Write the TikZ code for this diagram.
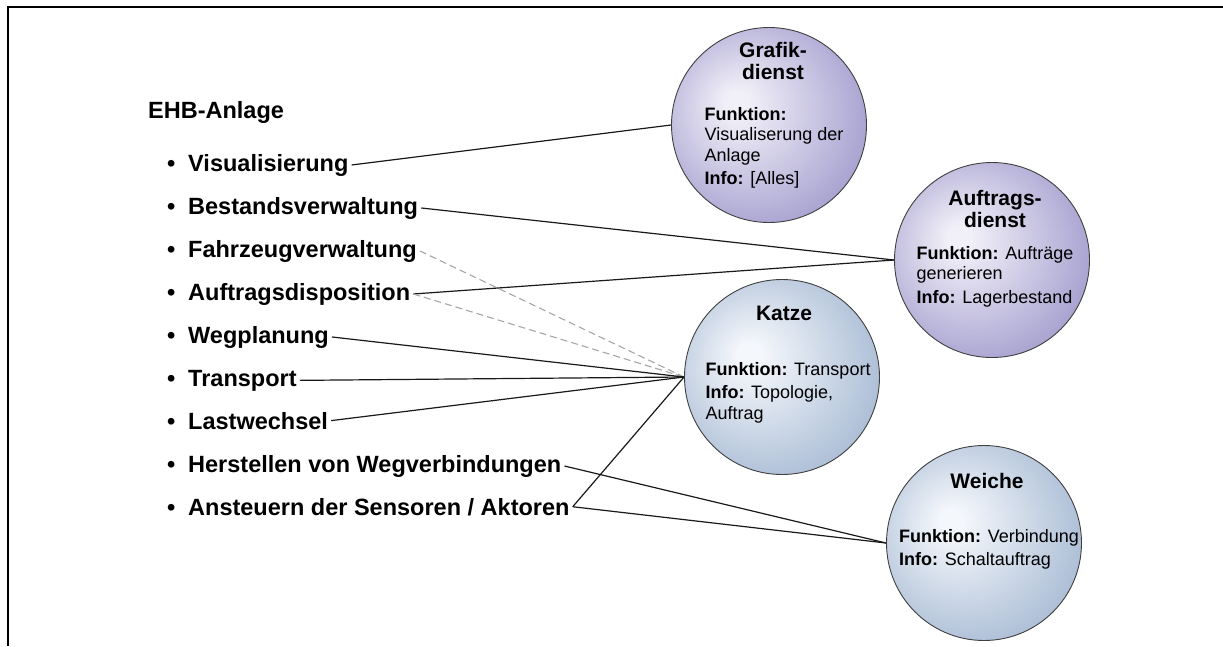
\documentclass[tikz,border=0pt]{standalone}
\usepackage{fontspec}
\setmainfont{Liberation Sans}
\usetikzlibrary{positioning}
\definecolor{lila}{HTML}{A7A1D0}
\definecolor{lilahell}{HTML}{F1F0F8}
\definecolor{blau}{HTML}{A6B9D3}
\definecolor{blauhell}{HTML}{F4F7FB}
\pgfdeclareradialshading{lilakugel}{\pgfqpoint{-9bp}{6bp}}{color(0bp)=(lilahell); color(3bp)=(lilahell); color(30bp)=(lila); color(50bp)=(lila)}
\pgfdeclareradialshading{blaukugel}{\pgfqpoint{-9bp}{6bp}}{color(0bp)=(blauhell); color(3bp)=(blauhell); color(32bp)=(blau); color(50bp)=(blau)}

\begin{document}
\begin{tikzpicture}[x=1pt, y=-1pt,
                kreis/.style={circle, draw=black!75, line width=0.9pt, minimum size=195pt, inner sep=0pt, shade},
                dienst/.style={kreis, shading=lilakugel},
                geraet/.style={kreis, shading=blaukugel},
                titel/.style={font=\bfseries\fontsize{21}{22.5}\selectfont, align=center, inner sep=0pt, anchor=north},
                inhalt/.style={font=\fontsize{18}{20.5}\selectfont, align=left, inner sep=0pt, anchor=north},
                punkt/.style={font=\bfseries\fontsize{23.5}{28}\selectfont, anchor=base west, inner xsep=3pt, inner ysep=0pt},
                verb/.style={line width=1.2pt, black!90},
                neben/.style={line width=1.1pt, gray!70, dash pattern=on 7pt off 4pt}
            ]
            \useasboundingbox (0,0) rectangle (1223,646);
            \draw[line width=2.2pt] (1223,7) -| (8,646);

            % Anlage mit Aufgaben
            \node[punkt, inner sep=0pt] (anlage) at (148,118) {EHB-Anlage};
            \node[punkt] (visu) at (164,171) {\textbullet\hspace{12.8pt}Visualisierung};
            \node[punkt] (bestand) at (164,214) {\textbullet\hspace{12.8pt}Bestandsverwaltung};
            \node[punkt] (fahrzeug) at (164,257) {\textbullet\hspace{12.8pt}Fahrzeugverwaltung};
            \node[punkt] (dispo) at (164,300) {\textbullet\hspace{12.8pt}Auftragsdisposition};
            \node[punkt] (weg) at (164,343) {\textbullet\hspace{12.8pt}Wegplanung};
            \node[punkt] (transp) at (164,386) {\textbullet\hspace{12.8pt}Transport};
            \node[punkt] (last) at (164,429) {\textbullet\hspace{12.8pt}Lastwechsel};
            \node[punkt] (herst) at (164,472) {\textbullet\hspace{12.8pt}Herstellen von Wegverbindungen};
            \node[punkt] (ansteu) at (164,515) {\textbullet\hspace{12.8pt}Ansteuern der Sensoren / Aktoren};

            % Dienste und Geraete
            \node[dienst] (graf) at (769,125) {};
            \node[titel] (grafkopf) at ([xshift=4pt,yshift=83pt]graf.center) {Grafik-\\dienst};
            \node[inhalt] (grafinfo) at ([xshift=5pt,yshift=18pt]graf.center) {\textbf{Funktion:}\\Visualiserung der\\Anlage\\[3pt]\textbf{Info:} [Alles]};

            \node[dienst] (auftr) at (992,260) {};
            \node[titel] (auftrkopf) at ([xshift=3pt,yshift=70pt]auftr.center) {Auftrags-\\dienst};
            \node[inhalt] (auftrinfo) at ([xshift=3pt,yshift=14pt]auftr.center) {\textbf{Funktion:} Aufträge\\generieren\\[3pt]\textbf{Info:} Lagerbestand};

            \node[geraet] (katze) at (782,377) {};
            \node[titel] (katzekopf) at ([xshift=2pt,yshift=71pt]katze.center) {Katze};
            \node[inhalt] (katzeinfo) at ([xshift=6pt,yshift=15pt]katze.center) {\textbf{Funktion:} Transport\\[3pt]\textbf{Info:} Topologie,\\Auftrag};

            \node[geraet] (weiche) at (984,543) {};
            \node[titel] (weichekopf) at ([xshift=3pt,yshift=70pt]weiche.center) {Weiche};
            \node[inhalt] (weicheinfo) at ([xshift=5pt,yshift=14pt]weiche.center) {\textbf{Funktion:} Verbindung\\[3pt]\textbf{Info:} Schaltauftrag};

            % Zuordnung
            \draw[verb] (visu.east) -- (graf.west);
            \draw[verb] (bestand.east) -- (auftr.west);
            \draw[neben] (fahrzeug.east) -- (katze.west);
            \draw[verb] (dispo.east) -- (auftr.west);
            \draw[neben] (dispo.east) -- (katze.west);
            \draw[verb] (weg.east) -- (katze.west);
            \draw[verb] (transp.east) -- (katze.west);
            \draw[verb] (last.east) -- (katze.west);
            \draw[verb] (herst.east) -- (weiche.west);
            \draw[verb] (ansteu.east) -- (katze.west);
            \draw[verb] (ansteu.east) -- (weiche.west);
        \end{tikzpicture}
\end{document}
